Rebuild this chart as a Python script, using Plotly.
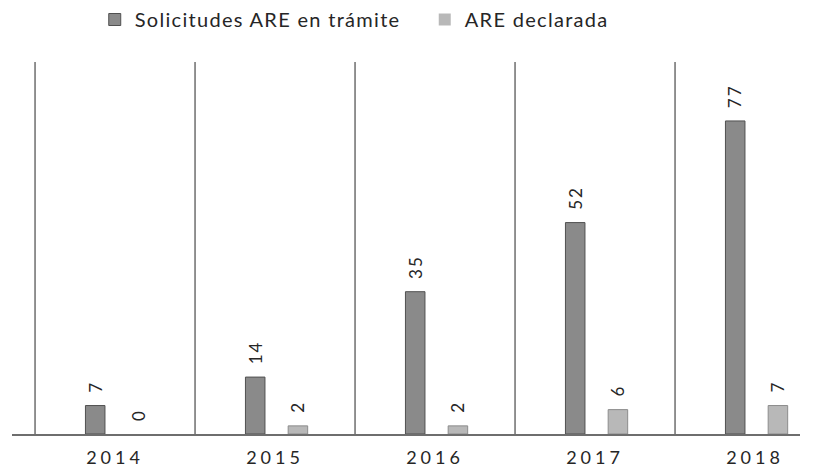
import plotly.graph_objects as go

years = ["2014", "2015", "2016", "2017", "2018"]
solicitudes = [7, 14, 35, 52, 77]
declarada = [0, 2, 2, 6, 7]

series_names = ["Solicitudes ARE en trámite", "ARE declarada"]

pos = list(range(len(years)))
bar_w = 0.122
off_dark = -0.185
off_light = 0.082

FONT = "Lato"
TXT = "#262626"


def spaced(s, px):
    return f'<span style="letter-spacing:{px}px">{s}</span>'


def outline(vals):
    # no outline on empty bars so a zero value leaves no mark
    return [1 if v else 0 for v in vals]


fig = go.Figure()
fig.add_trace(go.Bar(
    x=pos, y=solicitudes, name=spaced(series_names[0], 1.3),
    width=bar_w, offset=off_dark,
    marker=dict(color="#8a8a8a",
                line=dict(color="#505050", width=outline(solicitudes))),
))
fig.add_trace(go.Bar(
    x=pos, y=declarada, name=spaced(series_names[1], 1.3),
    width=bar_w, offset=off_light,
    marker=dict(color="#b8b8b8",
                line=dict(color="#8c8c8c", width=outline(declarada))),
))

# value labels, rotated, above each bar
annotations = []
for off, vals in ((off_dark, solicitudes), (off_light, declarada)):
    for p, v in zip(pos, vals):
        annotations.append(dict(
            x=p + off + bar_w / 2, y=v, xref="x", yref="y",
            text=spaced(str(v), 2), showarrow=False, textangle=-90,
            xanchor="center", yanchor="bottom", yshift=11,
            font=dict(family=FONT, size=17, color=TXT),
        ))

# category separators
shapes = []
for p in pos:
    shapes.append(dict(
        type="line", xref="x", yref="paper",
        x0=p - 0.5, x1=p - 0.5, y0=0, y1=1,
        line=dict(color="#6e6e6e", width=1.5),
    ))

fig.update_layout(
    width=825, height=468,
    margin=dict(l=12, r=25, t=62, b=34, autoexpand=False),
    plot_bgcolor="white", paper_bgcolor="white",
    barmode="overlay",
    showlegend=True,
    legend=dict(
        orientation="h", x=0.105, xanchor="left", y=1.0, yanchor="top",
        yref="container", entrywidth=285, entrywidthmode="pixels",
        font=dict(family=FONT, size=20, color=TXT),
        bgcolor="rgba(0,0,0,0)",
    ),
    xaxis=dict(
        range=[-0.644, 4.281], automargin=False,
        tickmode="array", tickvals=pos, ticktext=[spaced(y, 4) for y in years],
        showline=True, linecolor="#6e6e6e", linewidth=1.5,
        showgrid=False, zeroline=False,
        ticks="outside", ticklen=7, tickcolor="rgba(0,0,0,0)",
        tickfont=dict(family=FONT, size=18, color=TXT),
    ),
    yaxis=dict(
        range=[0, 91.5], visible=False, showgrid=False, zeroline=False,
        automargin=False,
    ),
    annotations=annotations,
    shapes=shapes,
)

fig.write_html("out.html")
